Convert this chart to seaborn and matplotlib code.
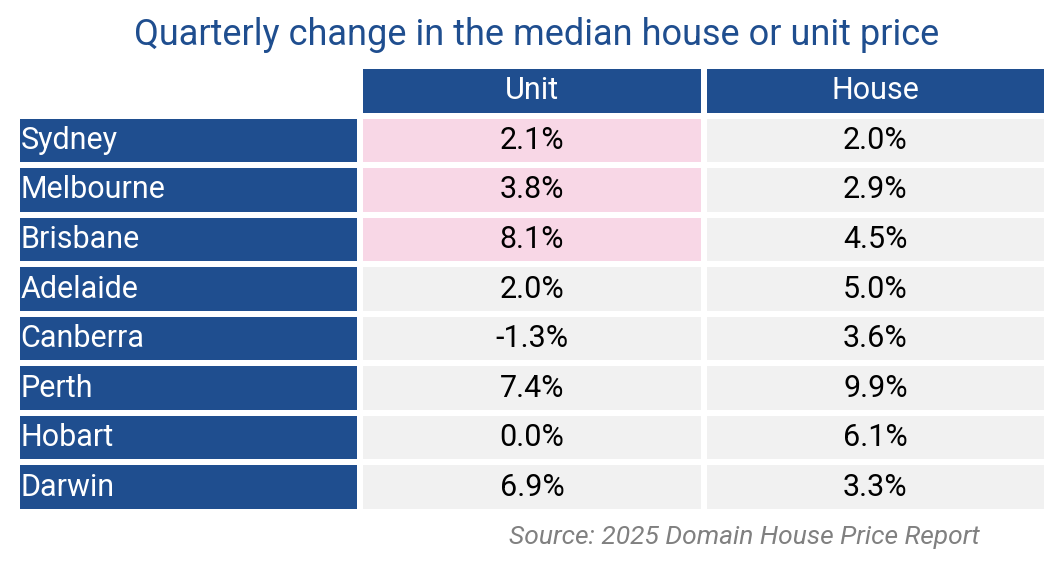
import numpy as np
import matplotlib
matplotlib.use('Agg')
import matplotlib.pyplot as plt
from matplotlib.colors import ListedColormap
import seaborn as sns

# --- DATOS ---
ciudades = ["Sydney", "Melbourne", "Brisbane", "Adelaide", "Canberra", "Perth", "Hobart", "Darwin"]
columnas = ["Unit", "House"]
unit = ["2.1%", "3.8%", "8.1%", "2.0%", "-1.3%", "7.4%", "0.0%", "6.9%"]
house = ["2.0%", "2.9%", "4.5%", "5.0%", "3.6%", "9.9%", "6.1%", "3.3%"]
resaltado_unit = [True, True, True, False, False, False, False, False]

AZUL = "#1f4e8f"
ROSA = "#f8d7e6"
GRIS = "#f1f1f1"

# matriz de colores: 0 blanco, 1 azul, 2 rosa, 3 gris
n = len(ciudades)
codigos = np.zeros((n + 1, 3), dtype=int)
codigos[0, 1:] = 1
for i in range(n):
    codigos[i + 1, 0] = 1
    codigos[i + 1, 1] = 2 if resaltado_unit[i] else 3
    codigos[i + 1, 2] = 3
cmap = ListedColormap(["white", AZUL, ROSA, GRIS])

plt.rcParams['font.family'] = ['Roboto', 'DejaVu Sans']
fig = plt.figure(figsize=(10.64, 5.61), dpi=100)
W, H = 1064, 561
ax = fig.add_axes([17 / W, 1 - 512 / H, 1030 / W, 446 / H])
sns.heatmap(codigos, cmap=cmap, vmin=-0.5, vmax=3.5, cbar=False,
            linewidths=4, linecolor="white", ax=ax)
ax.set_xticks([]); ax.set_yticks([])
ax.set_xlabel(""); ax.set_ylabel("")

fs = 22
for j, c in enumerate(columnas):
    ax.text(j + 1.5, 0.5, c, color="white", ha="center", va="center", fontsize=fs)
for i, ciudad in enumerate(ciudades):
    y = i + 1.5
    ax.text(0.01, y, ciudad, color="white", ha="left", va="center", fontsize=fs)
    ax.text(1.5, y, unit[i], color="black", ha="center", va="center", fontsize=fs)
    ax.text(2.5, y, house[i], color="black", ha="center", va="center", fontsize=fs)

fig.text(537 / W, 1 - 35 / H, "Quarterly change in the median house or unit price",
         ha="center", va="center", fontsize=26, color=AZUL)
fig.text(980 / W, 1 - 537 / H, "Source: 2025 Domain House Price Report",
         ha="right", va="center", fontsize=19, color="#808080", style="italic")

fig.savefig("out.png", dpi=100)
